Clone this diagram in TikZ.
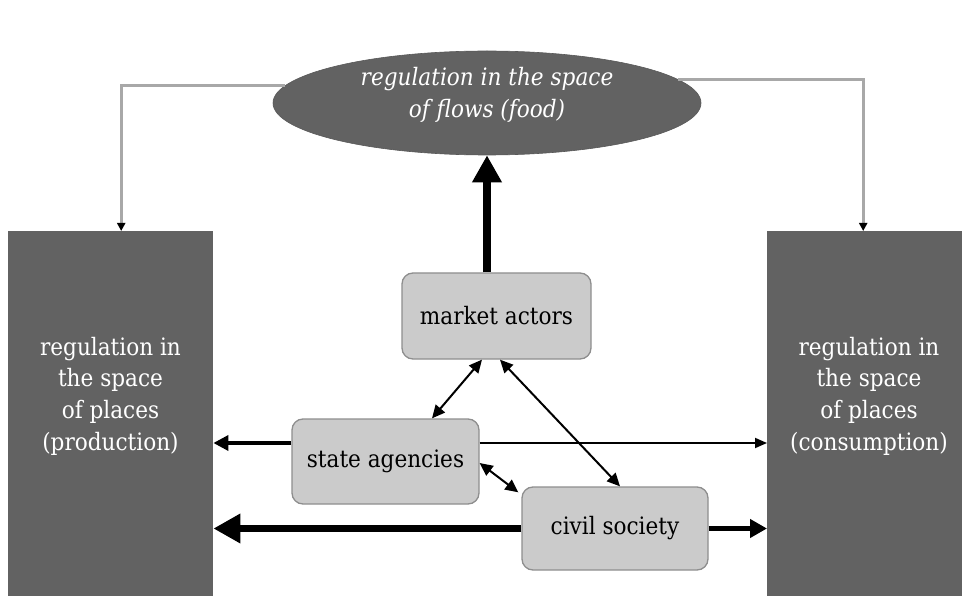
\documentclass[tikz,border=0pt]{standalone}
\usepackage{fontspec}
\setmainfont{DejaVu Serif}[FakeStretch=0.9]
\usetikzlibrary{arrows.meta,shapes.geometric}

\definecolor{placefill}{HTML}{626262}
\definecolor{actorfill}{HTML}{CBCBCB}
\definecolor{actorline}{HTML}{8E8E8E}
\definecolor{feedgray}{HTML}{A8A8A8}

\begin{document}
\begin{tikzpicture}[x=1pt,y=-1pt,
  placebox/.style={rectangle, fill=placefill, draw=none, inner sep=0pt, anchor=north west},
  placetext/.style={text=white, align=center, inner sep=0pt,
    font=\fontsize{24}{31.6}\selectfont},
  flowsshape/.style={ellipse, fill=placefill, draw=placefill!90!black, line width=0.6pt, inner sep=0pt,
    minimum width=428pt, minimum height=104pt},
  flowstext/.style={text=white, align=center, inner sep=0pt,
    font=\fontsize{24}{32}\selectfont\itshape},
  actorbox/.style={rectangle, rounded corners=11pt, fill=actorfill, draw=actorline,
    line width=1.3pt, inner sep=0pt, font=\fontsize{24}{30}\selectfont},
  feedline/.style={draw=feedgray, line width=2.6pt,
    -{Triangle[length=8pt,width=8pt,color=black]}},
  thinlink/.style={draw=black, line width=1.8pt, -{Triangle[length=12pt,width=10pt]}},
  medlink/.style={draw=black, line width=3.4pt, -{Triangle[length=15pt,width=15pt]}},
  midlink/.style={draw=black, line width=4.2pt, -{Triangle[length=17pt,width=18pt]}},
  heavylink/.style={draw=black, line width=7.5pt, -{Triangle[length=27pt,width=28pt]}},
  twoway/.style={draw=black, line width=2pt,
    {Triangle[length=13pt,width=12pt]}-{Triangle[length=13pt,width=12pt]}}
]
\useasboundingbox (0,0) rectangle (962,596);

% spaces of places (both run past the page edges)
\node[placebox, minimum width=205pt, minimum height=400pt] (prod) at (8,231) {};
\node[placebox, minimum width=204pt, minimum height=400pt] (cons) at (767,231) {};
\node[placetext] (prodtext) at (110.5,396) {regulation in\\the space\\of places\\(production)};
\node[placetext] (constext) at (869,396) {regulation in\\the space\\of places\\(consumption)};

% space of flows
\node[flowsshape] (flows) at (487,103) {};
\node[flowstext] (flowstext) at (487,94.5) {regulation in the space\\of flows (food)};

% actors
\node[actorbox, minimum width=189pt, minimum height=86pt] (market) at (496.5,316) {market actors};
\node[actorbox, minimum width=187pt, minimum height=85pt] (state) at (385.5,461.5) {state agencies};
\node[actorbox, minimum width=186pt, minimum height=83pt] (civil) at (615,528.5) {civil society};

% feedback from the space of flows
\draw[feedline] (flows.175.8) -| ([xshift=10.5pt]prod.north);
\draw[feedline] (flows.7.6) -| ([xshift=-6pt]cons.north);

% market actors to the space of flows
\draw[heavylink] (market.north -| flows.south) -- (flows.south);

% links between actors
\draw[twoway] ([xshift=-14.5pt]market.south) -- ([xshift=46.5pt]state.north);
\draw[twoway] ([xshift=3.5pt]market.south) -- ([xshift=5pt]civil.north);
\draw[twoway] ([yshift=-1.5pt]state.east) -- ([xshift=-3pt,yshift=-6pt]civil.north west);

% actors to the spaces of places
\draw[medlink] ([yshift=18.5pt]state.west) -- ([yshift=18.5pt]state.west -| prod.east);
\draw[thinlink] ([yshift=18.5pt]state.east) -- ([yshift=18.5pt]state.east -| cons.west);
\draw[heavylink] (civil.west) -- (civil.west -| prod.east);
\draw[midlink] (civil.east) -- (civil.east -| cons.west);
\end{tikzpicture}
\end{document}
